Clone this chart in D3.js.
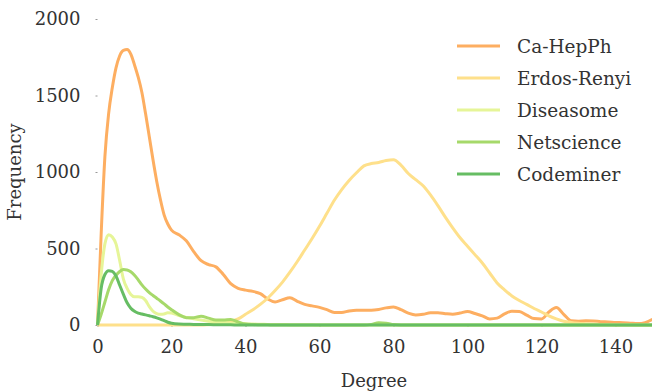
<!DOCTYPE html>
<html>
<head>
<meta charset="utf-8">
<script src="https://cdn.jsdelivr.net/npm/d3@7"></script>
<style>
  body { margin: 0; background: #fff; }
  svg text { fill: #333; }
</style>
</head>
<body>
<svg id="chart" width="652" height="392"></svg>
<script>
// degree samples: step 1 up to 20, then step 2
const degrees = d3.range(0, 21).concat(d3.range(22, 151, 2));

const seriesNames = ['Ca-HepPh', 'Erdos-Renyi', 'Diseasome', 'Netscience', 'Codeminer'];
const seriesColors = ['#fdae61', '#fee08b', '#e6f598', '#a6d96a', '#66bd63'];

const caHepPh = [0, 600, 1100, 1380, 1550, 1680, 1760, 1795, 1800, 1770, 1700, 1620, 1520, 1380, 1230, 1080, 940, 820, 720, 660, 620,
  590, 550, 480, 420, 395, 380, 330, 270, 240, 228, 220, 205, 170, 150, 165, 178, 155, 135, 125, 115,
  100, 82, 82, 92, 97, 97, 97, 102, 112, 118, 100, 78, 66, 70, 80, 80, 74, 70, 78, 88,
  75, 60, 40, 45, 72, 90, 88, 65, 42, 40, 85, 114, 70, 28, 25, 27, 26, 22, 20, 17,
  15, 12, 9, 15, 37];

const erdosRenyi = [0, 0, 0, 0, 0, 0, 0, 0, 0, 0, 0, 0, 0, 0, 0, 0, 0, 0, 0, 0, 0,
  0, 0, 0, 0, 2, 5, 12, 22, 40, 70, 100, 135, 175, 225, 280, 345, 415, 490, 565, 645,
  730, 815, 885, 945, 995, 1040, 1055, 1062, 1075, 1080, 1045, 990, 950, 910, 850, 780, 705, 635, 570, 515,
  460, 405, 340, 275, 230, 190, 160, 135, 108, 85, 60, 40, 25, 17, 12, 9, 6, 4, 3, 2,
  1, 1, 0, 0, 0];

const diseasome = [0, 330, 530, 590, 575, 530, 420, 300, 240, 200, 185, 185, 180, 160, 120, 90, 75, 70, 72, 80, 78,
  62, 50, 40, 32, 25, 20, 16, 12, 10, 8, 6, 5, 4, 3, 3, 2, 2, 1, 1, 0,
  0, 0, 0, 0, 0, 0, 0, 0, 0, 0, 0, 0, 0, 0, 0, 0, 0, 0, 0, 0,
  0, 0, 0, 0, 0, 0, 0, 0, 0, 0, 0, 0, 0, 0, 0, 0, 0, 0, 0, 0,
  0, 0, 0, 0, 0];

const netscience = [0, 70, 150, 230, 290, 325, 350, 362, 360, 348, 325, 295, 262, 235, 212, 193, 175, 157, 138, 118, 100,
  68, 48, 48, 58, 45, 32, 32, 36, 20, 6, 3, 2, 1, 0, 0, 0, 0, 0, 0, 0,
  0, 0, 0, 0, 0, 0, 4, 14, 12, 3, 0, 0, 0, 0, 0, 0, 0, 0, 0, 0,
  0, 0, 0, 0, 0, 0, 0, 0, 0, 0, 0, 0, 0, 0, 0, 0, 0, 0, 0, 0,
  0, 0, 0, 0, 0];

const codeminer = [0, 240, 330, 355, 350, 320, 260, 200, 145, 110, 90, 78, 72, 66, 60, 54, 47, 38, 28, 18, 11,
  6, 5, 4, 3, 3, 2, 1, 1, 0, 0, 0, 0, 0, 0, 0, 0, 0, 0, 0, 0,
  0, 0, 0, 0, 0, 0, 0, 0, 0, 0, 0, 0, 0, 0, 0, 0, 0, 0, 0, 0,
  0, 0, 0, 0, 0, 0, 0, 0, 0, 0, 0, 0, 0, 0, 0, 0, 0, 0, 0, 0,
  0, 0, 0, 0, 0];

const seriesValues = [caHepPh, erdosRenyi, diseasome, netscience, codeminer];

const xTicks = [0, 20, 40, 60, 80, 100, 120, 140];
const yTicks = [0, 500, 1000, 1500, 2000];

const FONT = '"DejaVu Serif", serif';
const svg = d3.select('#chart');

const x = d3.scaleLinear().domain([0, 150]).range([97.5, 652.5]);
const y = d3.scaleLinear().domain([0, 2000]).range([325, 19]);

// axes: tiny ticks, no domain line
const yAxis = svg.append('g')
  .attr('transform', 'translate(97.5,0)')
  .call(d3.axisLeft(y).tickValues(yTicks).tickFormat(d3.format('d')).tickSize(2).tickPadding(15));
const xAxis = svg.append('g')
  .attr('transform', 'translate(0,325)')
  .call(d3.axisBottom(x).tickValues(xTicks).tickFormat(d3.format('d')).tickSize(2).tickPadding(13));

[xAxis, yAxis].forEach(a => {
  a.attr('font-family', null).attr('font-size', null);
  a.select('.domain').remove();
  a.selectAll('.tick line').attr('stroke', '#999');
  a.selectAll('.tick text')
    .attr('fill', '#333')
    .style('font-family', FONT)
    .style('font-size', '18px');
});

svg.append('text')
  .attr('transform', 'translate(21,172) rotate(-90)')
  .attr('text-anchor', 'middle')
  .style('font-family', FONT)
  .style('font-size', '18px')
  .text('Frequency');

svg.append('text')
  .attr('x', 374)
  .attr('y', 387)
  .attr('text-anchor', 'middle')
  .style('font-family', FONT)
  .style('font-size', '18px')
  .text('Degree');

const line = d3.line()
  .x(d => x(d[0]))
  .y(d => y(d[1]))
  .curve(d3.curveMonotoneX);

svg.append('g')
  .selectAll('path')
  .data(seriesValues)
  .enter()
  .append('path')
  .attr('fill', 'none')
  .attr('stroke', (d, i) => seriesColors[i])
  .attr('stroke-width', 3)
  .attr('stroke-linejoin', 'round')
  .attr('d', vals => line(degrees.map((deg, j) => [deg, vals[j]])));

// legend
const legend = svg.append('g')
  .selectAll('g')
  .data(seriesNames)
  .enter()
  .append('g')
  .attr('transform', (d, i) => `translate(457,${46 + i * 32})`);

legend.append('line')
  .attr('x1', 0).attr('x2', 43)
  .attr('stroke', (d, i) => seriesColors[i])
  .attr('stroke-width', 3);

legend.append('text')
  .attr('x', 60)
  .attr('y', 7)
  .style('font-family', FONT)
  .style('font-size', '18.5px')
  .text(d => d);
</script>
</body>
</html>
